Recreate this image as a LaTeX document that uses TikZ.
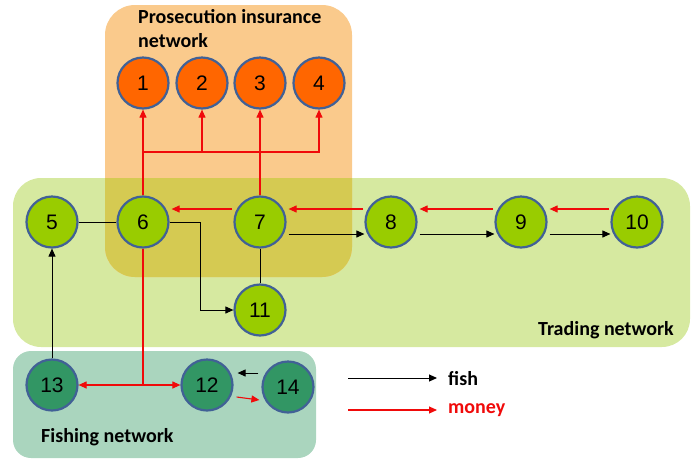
\documentclass[tikz,border=0pt]{standalone}
\usepackage{fontspec}
\setmainfont{Carlito}
\newfontfamily\numfont{Liberation Sans}
\usetikzlibrary{arrows.meta,calc}
\definecolor{orgbox}{RGB}{250,202,140}
\definecolor{trdbox}{RGB}{214,233,160}
\definecolor{ovlbox}{RGB}{213,202,82}
\definecolor{fshbox}{RGB}{170,213,190}
\definecolor{orgnode}{RGB}{255,102,0}
\definecolor{grnnode}{RGB}{153,204,0}
\definecolor{dgnnode}{RGB}{50,150,100}
\definecolor{nodeedge}{RGB}{65,97,150}
\definecolor{moneyred}{RGB}{240,10,10}
\begin{document}
\begin{tikzpicture}[x=1pt,y=-1pt,
  nd/.style={circle,draw=nodeedge,line width=2.2pt,minimum size=51pt,inner sep=0pt,
             font=\numfont\fontsize{21}{21}\selectfont},
  onode/.style={nd,fill=orgnode},
  gnode/.style={nd,fill=grnnode},
  dnode/.style={nd,fill=dgnnode},
  lbl/.style={font=\fontsize{20}{24}\selectfont\bfseries},
  fishln/.style={black,line width=1pt},
  fisharr/.style={fishln,-{Triangle[length=8pt,width=7pt]}},
  moneyln/.style={moneyred,line width=1.1pt},
  moneyarr/.style={moneyln,-{Triangle[length=8pt,width=7pt]}}
]
\useasboundingbox (0,0) rectangle (697,459);
% region boxes
\fill[trdbox,rounded corners=28pt] (13,178) rectangle (690,347);
\fill[orgbox,rounded corners=30pt] (105,5) rectangle (352,277);
\begin{scope}
  \clip[rounded corners=28pt] (13,178) rectangle (690,347);
  \fill[ovlbox,rounded corners=30pt] (105,5) rectangle (352,277);
\end{scope}
\fill[fshbox,rounded corners=18pt] (13,351) rectangle (316,458);

% labels
\node[lbl,anchor=north west,align=left,inner sep=0pt] (tp) at (138,9) {Prosecution insurance\\network};
\node[lbl,anchor=east,inner sep=0pt] (tt) at (674,330) {Trading network};
\node[lbl,anchor=west,inner sep=0pt] (tf) at (41,437) {Fishing network};

% nodes
\node[onode] (n1) at (143,83) {1};
\node[onode] (n2) at (202,83) {2};
\node[onode] (n3) at (260,83) {3};
\node[onode] (n4) at (319,83) {4};
\node[gnode] (n5) at (52,222) {5};
\node[gnode] (n6) at (143,222) {6};
\node[gnode] (n7) at (260,222) {7};
\node[gnode] (n8) at (391,222) {8};
\node[gnode] (n9) at (521,222) {9};
\node[gnode] (n10) at (637,222) {10};
\node[gnode] (n11) at (260,310) {11};
\node[dnode] (n13) at (52,385) {13};
\node[dnode] (n12) at (207,385) {12};
\node[dnode] (n14) at (288,387) {14};

% fish connectors
\draw[fishln] (n5.east) -- (n6.west);
\draw[fisharr] (n6.east) -- ++(31,0) |- (n11.west);
\draw[fishln] (n7.south) -- (n11.north);
\draw[fisharr] ($(n7.east)+(2,12)$) -- ($(n8.west)+(0,12)$);
\draw[fisharr] ($(n8.east)+(2,12)$) -- ($(n9.west)+(0,12)$);
\draw[fisharr] ($(n9.east)+(2,12)$) -- ($(n10.west)+(0,12)$);
\draw[fisharr] (n13.north) -- (n5.south);
\draw[fisharr] ($(n14.west)+(-3,-14)$) -- ($(n12.east)+(4,-12)$);

% money connectors
\draw[moneyarr] ($(n7.west)+(-1,-13)$) -- ($(n6.east)+(2,-13)$);
\draw[moneyarr] ($(n8.west)+(-1,-13)$) -- ($(n7.east)+(2,-13)$);
\draw[moneyarr] ($(n9.west)+(-1,-13)$) -- ($(n8.east)+(2,-13)$);
\draw[moneyarr] ($(n10.west)+(-1,-13)$) -- ($(n9.east)+(2,-13)$);
\coordinate (jup) at (143,152);
\draw[moneyarr] (n6.north) -- (n1.south);
\draw[moneyarr] (jup) -| (n4.south);
\draw[moneyarr] (n2.south |- jup) -- (n2.south);
\draw[moneyarr] (n7.north) -- (n3.south);
\coordinate (jdn) at (143,385);
\draw[moneyln] (n6.south) -- (jdn);
\draw[moneyarr] (jdn) -- (n12.west);
\draw[moneyarr] (jdn) -- (n13.east);
\draw[moneyarr] ($(n12.east)+(3,12)$) -- ($(n14.west)+(-2,13)$);

% legend
\node[lbl,anchor=west,inner sep=0pt] (lfish) at (448,379) {fish};
\node[lbl,anchor=west,inner sep=0pt,text=moneyred] (lmoney) at (448,410) {money};
\coordinate (lf0) at (348,378);
\coordinate (lm0) at (348,410);
\draw[fisharr] (lf0) -- ($(lfish.west)+(-11,-1)$);
\draw[moneyarr] (lm0) -- ($(lmoney.west)+(-11,0)$);
\end{tikzpicture}
\end{document}
